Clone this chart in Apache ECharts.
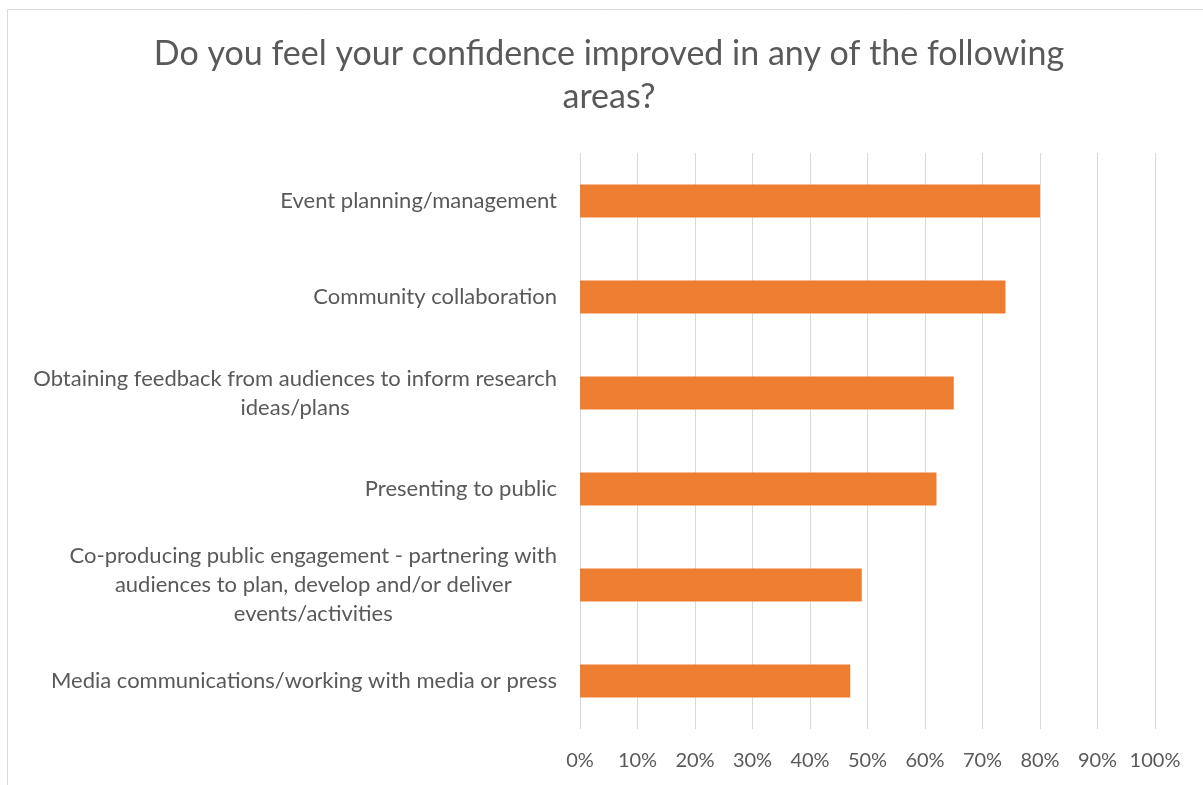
<!DOCTYPE html>
<html>
<head>
<meta charset="utf-8">
<title>Confidence improvement by area</title>
<script src="https://cdn.jsdelivr.net/npm/echarts@6/dist/echarts.min.js"></script>
<style>
  html, body { margin: 0; padding: 0; background: #ffffff; }
  #chart { width: 1203px; height: 785px; }
</style>
</head>
<body>
<div id="chart"></div>
<script>
// Survey areas, listed bottom to top as the category axis draws them
const categories = [
  'Media communications/working with media or press',
  'Co-producing public engagement - partnering with\naudiences to plan, develop and/or deliver\nevents/activities',
  'Presenting to public',
  'Obtaining feedback from audiences to inform research\nideas/plans',
  'Community collaboration',
  'Event planning/management'
];

// Share of respondents (%) reporting improved confidence
const shares = [47, 49, 62, 65, 74, 80];

// Value-axis tick labels, one per 10% step
const tickLabels = ['0%', '10%', '20%', '30%', '40%', '50%', '60%', '70%', '80%', '90%', '100%'];

const chartTitle = 'Do you feel your confidence improved in any of the following\nareas?';

// Text look
const FONT = 'Lato, "Open Sans", sans-serif';
const TEXT_COLOR = '#595959';
const LABEL_SIZE = 22;
const LABEL_LINE_HEIGHT = 29;

// Each wrapped line is centred within the label block, which hugs the axis
function labelMarkup(value) {
  return value.split('\n').map(function (line) { return '{c|' + line + '}'; }).join('\n');
}

const chart = echarts.init(document.getElementById('chart'), null, { renderer: 'canvas' });

chart.setOption({
  animation: false,
  backgroundColor: '#ffffff',
  title: {
    text: chartTitle,
    left: 609,
    top: 33,
    textAlign: 'center',
    padding: 0,
    textStyle: {
      fontFamily: FONT,
      fontSize: 34,
      fontWeight: 'normal',
      color: TEXT_COLOR,
      lineHeight: 43
    }
  },
  graphic: [{
    type: 'rect',
    silent: true,
    shape: { x: 7.5, y: 9.5, width: 1210, height: 800 },
    style: { fill: 'none', stroke: '#D9D9D9', lineWidth: 1 }
  }],
  grid: {
    left: 580,
    right: 48,
    top: 153,
    bottom: 56,
    outerBoundsMode: 'none'
  },
  xAxis: {
    type: 'value',
    min: 0,
    max: 100,
    interval: 10,
    axisLine: { show: false },
    axisTick: { show: false },
    splitLine: { show: true, lineStyle: { color: '#D9D9D9', width: 1 } },
    axisLabel: {
      margin: 22,
      fontFamily: FONT,
      fontSize: 20,
      color: TEXT_COLOR,
      formatter: function (v) { return tickLabels[Math.round(v / 10)]; }
    }
  },
  yAxis: {
    type: 'category',
    data: categories,
    axisLine: { show: false },
    axisTick: { show: false },
    splitLine: { show: false },
    axisLabel: {
      interval: 0,
      margin: 23,
      align: 'right',
      fontFamily: FONT,
      fontSize: LABEL_SIZE,
      color: TEXT_COLOR,
      lineHeight: LABEL_LINE_HEIGHT,
      formatter: labelMarkup,
      rich: {
        c: {
          align: 'center',
          fontFamily: FONT,
          fontSize: LABEL_SIZE,
          color: TEXT_COLOR,
          lineHeight: LABEL_LINE_HEIGHT
        }
      }
    }
  },
  series: [{
    type: 'bar',
    data: shares,
    barWidth: 33,
    itemStyle: { color: '#ED7D31' }
  }]
});
</script>
</body>
</html>
